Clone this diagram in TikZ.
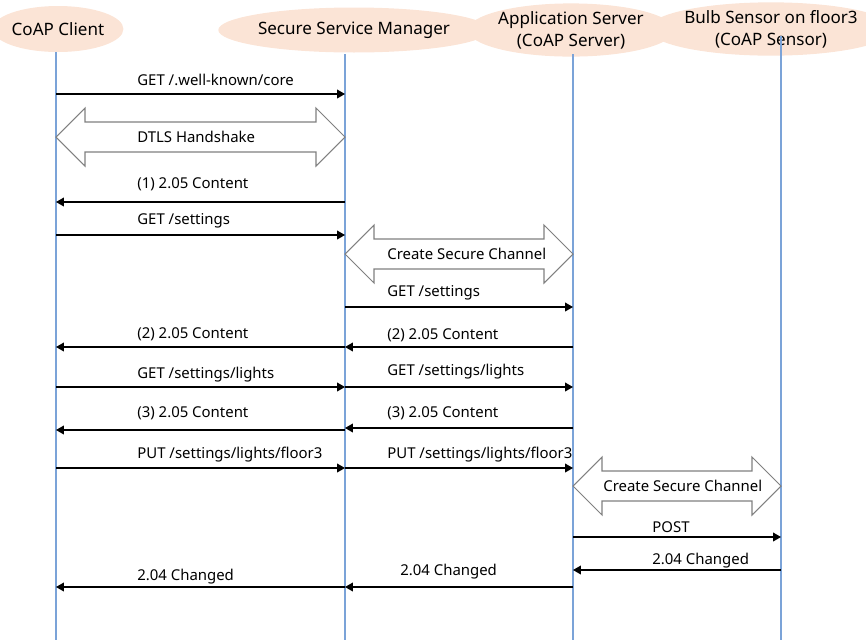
\documentclass[tikz,border=0pt]{standalone}
\usepackage{fontspec}
\setmainfont{Noto Sans}
\usetikzlibrary{arrows.meta,positioning,shapes.geometric}
\definecolor{LifeLine}{HTML}{7BA3D8}
\definecolor{HeadFill}{HTML}{FBE4D6}
\definecolor{BlockLine}{HTML}{808080}
\tikzset{>={Triangle[length=4.5pt,width=5pt]},
 actor/.style={ellipse,fill=HeadFill,inner sep=0pt,align=center,
 font=\fontsize{9.7}{12.5}\selectfont},
 life/.style={draw=LifeLine,line width=0.6pt},
 msg/.style={->,line width=0.6pt},
 lbl/.style={anchor=west,inner sep=0pt,font=\fontsize{8.5}{10}\selectfont},
 blockarr/.style={draw=BlockLine,fill=white,line width=0.6pt}}
% double block arrow between two lifelines: {x1}{x2}{y}
\newcommand\dblarrow[3]{\draw[blockarr] (#1,#3) -- ({#1+29},{#3-29}) -- ({#1+29},{#3-15})
 -- ({#2-29},{#3-15}) -- ({#2-29},{#3-29}) -- (#2,#3) -- ({#2-29},{#3+29})
 -- ({#2-29},{#3+15}) -- ({#1+29},{#3+15}) -- ({#1+29},{#3+29}) -- cycle;}

\begin{document}
\begin{tikzpicture}[x=0.02cm,y=-0.02cm]
\useasboundingbox (0,0) rectangle (866,640);
% participants
\node[actor,minimum width=2.06cm,minimum height=0.92cm] (client) at (58,29) {CoAP Client};
\node[actor,minimum width=4.28cm,minimum height=0.9cm] (ssm) at (354,30) {Secure Service Manager};
\node[actor,minimum width=3.04cm,minimum height=0.92cm] (app) at (571,30) {Application Server\\(CoAP Server)};
\node[actor,minimum width=3.84cm,minimum height=0.78cm] (bulb) at (771,29) {Bulb Sensor on floor3\\(CoAP Sensor)};
% lifelines
\coordinate (cl) at (56,52);\coordinate (sl) at (345,54);
\coordinate (al) at (573,54);\coordinate (bl) at (781,36);
\foreach \l in {cl,sl,al,bl} \draw[life] (\l) -- (\l |- 0,640);
% client <-> manager
\draw[msg] (cl |- 0,94) -- (sl |- 0,94);
\node[lbl] (m1) at (137,80) {GET /.well-known/core};
\dblarrow{56}{345}{137}
\node[lbl] (m2) at (137,137) {DTLS Handshake};
\draw[msg] (sl |- 0,202) -- (cl |- 0,202);
\node[lbl] (m3) at (137,184) {(1) 2.05 Content};
\draw[msg] (cl |- 0,235) -- (sl |- 0,235);
\node[lbl] (m4) at (137,221) {GET /settings};
% manager <-> server
\dblarrow{345}{573}{254}
\node[lbl] (m5) at (387,254) {Create Secure Channel};
\draw[msg] (sl |- 0,307) -- (al |- 0,307);
\node[lbl] (m6) at (387,293) {GET /settings};
\draw[msg] (al |- 0,347) -- (sl |- 0,347);
\node[lbl] (m7) at (387,335) {(2) 2.05 Content};
\draw[msg] (sl |- 0,347) -- (cl |- 0,347);
\node[lbl] (m8) at (137,334) {(2) 2.05 Content};
\draw[msg] (cl |- 0,387) -- (sl |- 0,387);
\node[lbl] (m9) at (137,375) {GET /settings/lights};
\draw[msg] (sl |- 0,387) -- (al |- 0,387);
\node[lbl] (m10) at (387,372) {GET /settings/lights};
\draw[msg] (al |- 0,428) -- (sl |- 0,428);
\node[lbl] (m11) at (387,413) {(3) 2.05 Content};
\draw[msg] (sl |- 0,430) -- (cl |- 0,430);
\node[lbl] (m12) at (137,413) {(3) 2.05 Content};
\draw[msg] (cl |- 0,468) -- (sl |- 0,468);
\node[lbl] (m13) at (137,455) {PUT /settings/lights/floor3};
\draw[msg] (sl |- 0,468) -- (al |- 0,468);
\node[lbl] (m14) at (387,455) {PUT /settings/lights/floor3};
% server <-> sensor
\dblarrow{573}{781}{486}
\node[lbl] (m15) at (603,486) {Create Secure Channel};
\draw[msg] (al |- 0,537) -- (bl |- 0,537);
\node[lbl] (m16) at (652,527) {POST};
\draw[msg] (bl |- 0,570) -- (al |- 0,570);
\node[lbl] (m17) at (652,561) {2.04 Changed};
\draw[msg] (al |- 0,587) -- (sl |- 0,587);
\node[lbl] (m18) at (400,572) {2.04 Changed};
\draw[msg] (sl |- 0,587) -- (cl |- 0,587);
\node[lbl] (m19) at (137,577) {2.04 Changed};
\end{tikzpicture}
\end{document}
